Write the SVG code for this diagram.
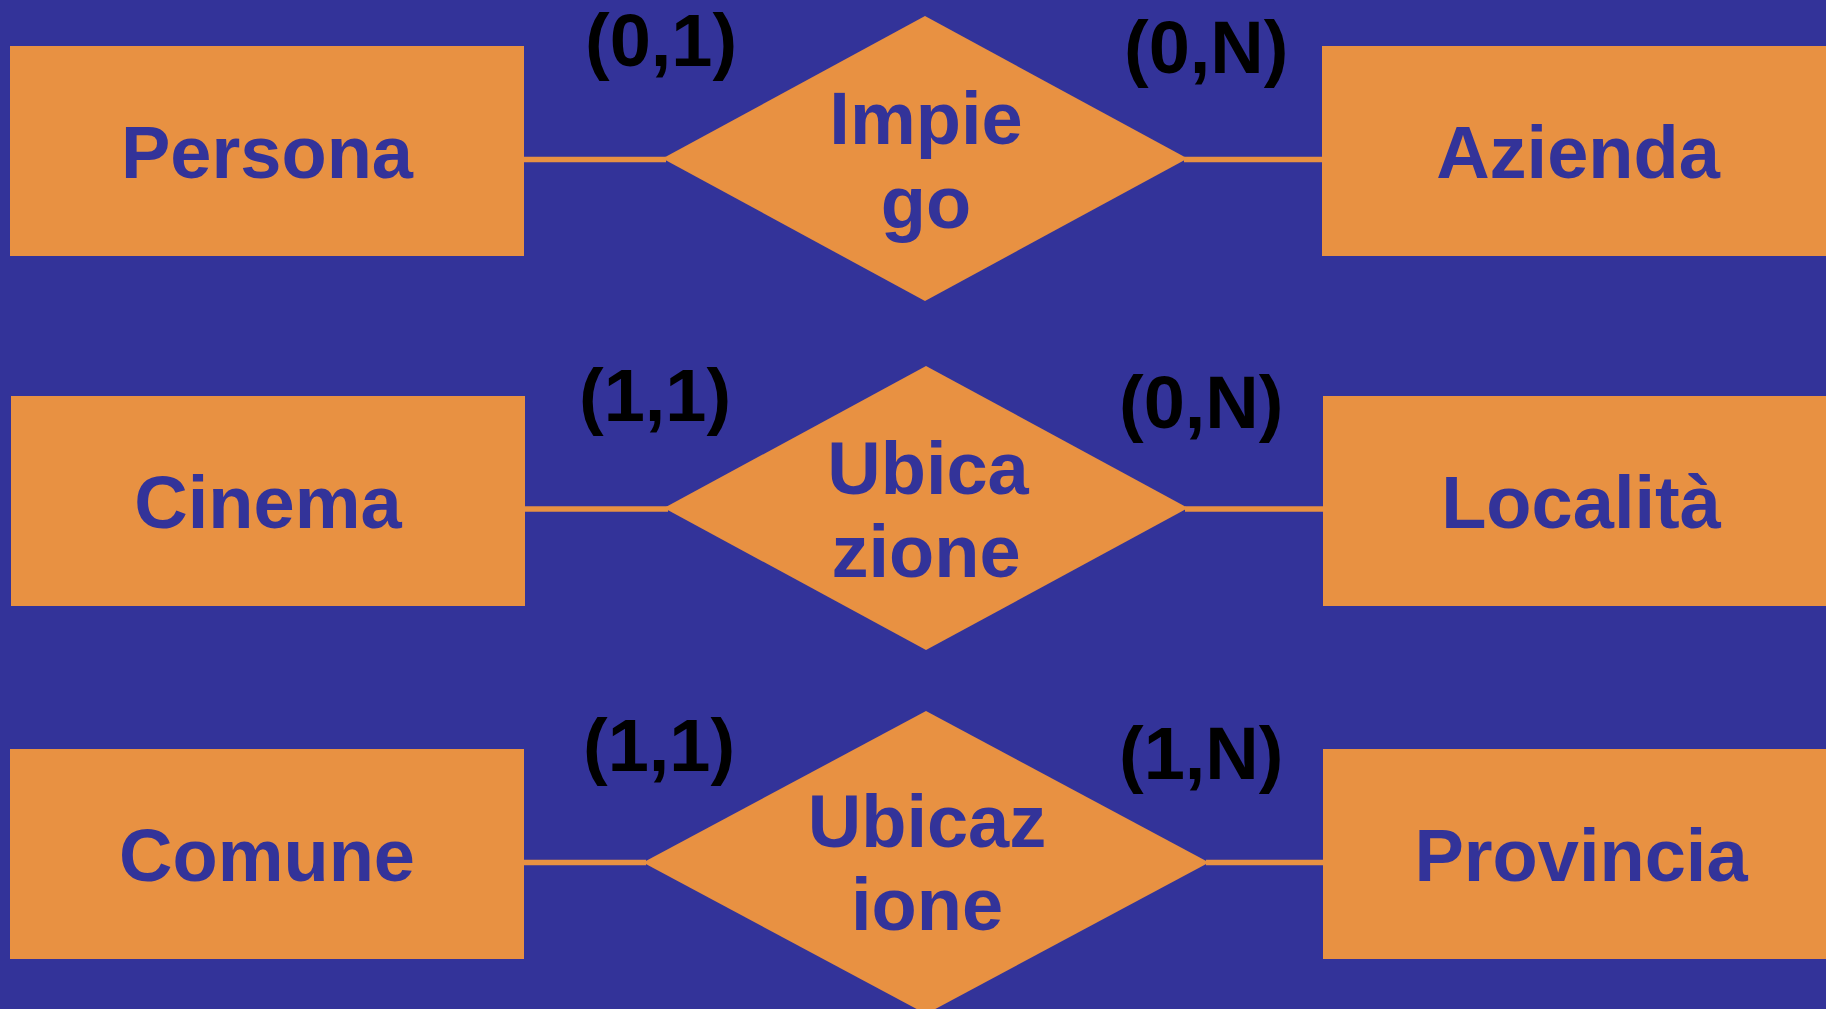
<svg xmlns="http://www.w3.org/2000/svg" width="1826" height="1009" viewBox="0 0 1826 1009">
  <style>
    .entity { fill: #E89142; }
    .relation { fill: #E89142; }
    .link { stroke: #E89142; stroke-width: 5.5; fill: none; }
    .label { font-family: "Liberation Sans", Arial, Helvetica, sans-serif; font-weight: bold; font-size: 74px; fill: #333399; text-anchor: middle; }
    .card { font-family: "Liberation Sans", Arial, Helvetica, sans-serif; font-weight: bold; font-size: 74px; fill: #000000; }
  </style>

  <!-- background -->
  <rect x="0" y="0" width="1826" height="1009" fill="#333399"/>

  <!-- connectors between entities and relationships -->
  <g id="connectors">
    <line class="link" x1="522" y1="159.5" x2="666" y2="159.5"/>
    <line class="link" x1="1184" y1="159.5" x2="1324" y2="159.5"/>
    <line class="link" x1="523" y1="509" x2="668" y2="509"/>
    <line class="link" x1="1185" y1="509" x2="1325" y2="509"/>
    <line class="link" x1="522" y1="862.5" x2="646" y2="862.5"/>
    <line class="link" x1="1206" y1="862.5" x2="1325" y2="862.5"/>
  </g>

  <!-- row 1: Persona - Impiego - Azienda -->
  <g id="persona">
    <rect class="entity" x="10" y="46" width="514" height="210"/>
    <text class="label" x="267" y="178">Persona</text>
  </g>
  <g id="impiego">
    <polygon class="relation" points="925,16 1187.5,158.5 925,301 662.5,158.5"/>
    <text class="label" x="926" y="144">Impie</text>
    <text class="label" x="926" y="228">go</text>
  </g>
  <g id="azienda">
    <rect class="entity" x="1322" y="46" width="514" height="210"/>
    <text class="label" x="1578" y="178">Azienda</text>
  </g>
  <text class="card" x="585" y="66">(0,1)</text>
  <text class="card" x="1124" y="73">(0,N)</text>

  <!-- row 2: Cinema - Ubicazione - Località -->
  <g id="cinema">
    <rect class="entity" x="11" y="396" width="514" height="210"/>
    <text class="label" x="268" y="528">Cinema</text>
  </g>
  <g id="ubicazione-1">
    <polygon class="relation" points="926,366 1188,508 926,650 664,508"/>
    <text class="label" x="928" y="494">Ubica</text>
    <text class="label" x="926" y="577">zione</text>
  </g>
  <g id="localita">
    <rect class="entity" x="1323" y="396" width="514" height="210"/>
    <text class="label" x="1581" y="528">Località</text>
  </g>
  <text class="card" x="579" y="421">(1,1)</text>
  <text class="card" x="1119" y="428">(0,N)</text>

  <!-- row 3: Comune - Ubicazione - Provincia -->
  <g id="comune">
    <rect class="entity" x="10" y="749" width="514" height="210"/>
    <text class="label" x="267" y="881">Comune</text>
  </g>
  <g id="ubicazione-2">
    <polygon class="relation" points="926,711 1209,862.5 926,1014 643,862.5"/>
    <text class="label" x="927" y="847">Ubicaz</text>
    <text class="label" x="927" y="930">ione</text>
  </g>
  <g id="provincia">
    <rect class="entity" x="1323" y="749" width="514" height="210"/>
    <text class="label" x="1581" y="881">Provincia</text>
  </g>
  <text class="card" x="583" y="771">(1,1)</text>
  <text class="card" x="1119" y="779">(1,N)</text>
</svg>
